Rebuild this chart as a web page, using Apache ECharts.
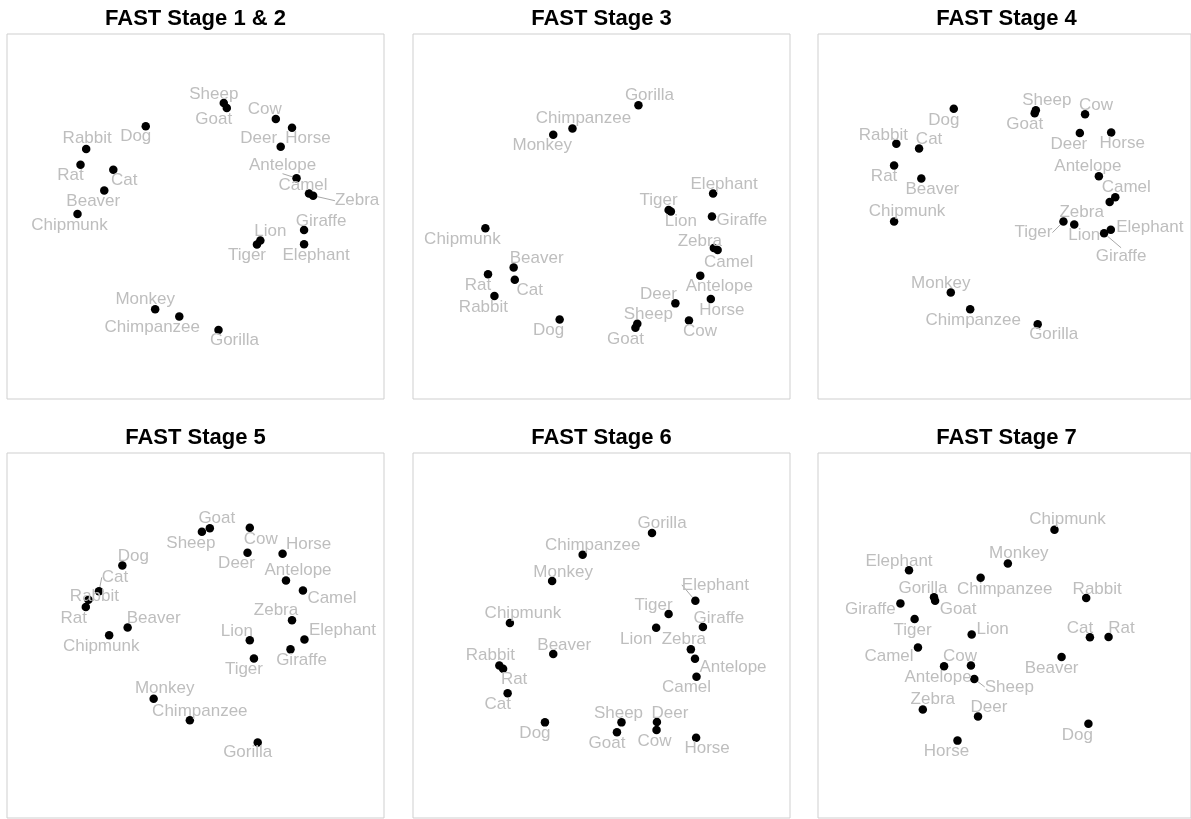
<!DOCTYPE html>
<html>
<head>
<meta charset="utf-8">
<title>FAST stages – animal similarity maps</title>
<script src="https://cdn.jsdelivr.net/npm/echarts@6/dist/echarts.min.js"></script>
<style>
  html, body { margin: 0; padding: 0; background: #fff; }
  #chart { width: 1191px; height: 819px; }
</style>
</head>
<body>
<div id="chart"></div>
<script>
// Animals shown in every panel (same order for all coordinate arrays)
const animals = ['Antelope', 'Beaver', 'Camel', 'Cat', 'Chimpanzee', 'Chipmunk', 'Cow',
  'Deer', 'Dog', 'Elephant', 'Giraffe', 'Goat', 'Gorilla', 'Horse', 'Lion', 'Monkey',
  'Rabbit', 'Rat', 'Sheep', 'Tiger', 'Zebra'];

const stageTitles = ['FAST Stage 1 & 2', 'FAST Stage 3', 'FAST Stage 4',
  'FAST Stage 5', 'FAST Stage 6', 'FAST Stage 7'];

// Two-dimensional map coordinates per stage
const stage12X = [76.8, 25.8, 80.1, 28.2, 45.7, 18.7, 71.3, 72.6, 36.8, 78.8, 78.8, 58.3, 56.1, 75.6, 67.2, 39.3, 21.0, 19.5, 57.5, 66.3, 81.2];
const stage12Y = [60.5, 57.1, 56.3, 62.8, 22.6, 50.7, 76.7, 69.1, 74.7, 42.4, 46.3, 79.7, 18.9, 74.3, 43.4, 24.6, 68.5, 64.2, 81.1, 42.3, 55.7];

const stage3X = [76.2, 26.7, 80.8, 27.0, 42.3, 19.2, 73.2, 69.6, 38.9, 79.6, 79.3, 59.0, 59.8, 79.0, 68.4, 37.2, 21.6, 19.9, 59.5, 67.8, 79.8];
const stage3Y = [33.8, 36.0, 40.8, 32.7, 74.1, 46.8, 21.5, 26.2, 21.8, 56.3, 50.0, 19.5, 80.5, 27.4, 51.4, 72.4, 28.2, 34.2, 20.6, 51.8, 41.4];

const stage4X = [75.3, 27.7, 79.7, 27.1, 40.8, 20.4, 71.6, 70.2, 36.4, 78.5, 76.7, 58.1, 58.9, 78.6, 68.7, 35.6, 21.0, 20.4, 58.4, 65.8, 78.2];
const stage4Y = [61.0, 60.4, 55.3, 68.6, 24.6, 48.6, 78.0, 72.9, 79.5, 46.4, 45.4, 78.3, 20.5, 73.0, 47.8, 29.2, 69.9, 64.0, 79.1, 48.6, 54.0];

const stage5X = [74.0, 32.0, 78.5, 24.4, 48.5, 27.1, 64.4, 63.8, 30.6, 78.9, 75.2, 53.8, 66.5, 73.1, 64.4, 38.9, 21.6, 20.9, 51.7, 65.5, 75.6];
const stage5Y = [65.1, 52.2, 62.3, 62.1, 26.8, 50.1, 79.5, 72.7, 69.2, 48.9, 46.2, 79.4, 20.7, 72.4, 48.7, 32.7, 59.8, 57.8, 78.4, 43.7, 54.2];

const stage6X = [74.8, 37.2, 75.2, 25.1, 45.0, 25.7, 64.6, 64.7, 35.0, 74.9, 76.9, 54.1, 63.4, 75.1, 64.5, 36.9, 22.9, 23.9, 55.3, 67.8, 73.7];
const stage6Y = [43.6, 44.9, 38.7, 34.2, 72.1, 53.4, 24.1, 26.3, 26.2, 59.5, 52.3, 23.5, 78.1, 22.0, 52.1, 64.9, 41.8, 40.9, 26.2, 55.9, 46.2];

const stage7X = [33.8, 65.3, 26.8, 72.9, 43.6, 63.4, 41.0, 42.9, 72.5, 24.4, 22.1, 31.4, 31.1, 37.4, 41.2, 50.9, 71.9, 77.9, 41.9, 25.9, 28.1];
const stage7Y = [41.6, 44.1, 46.7, 49.5, 65.8, 79.0, 41.8, 27.8, 25.8, 67.9, 58.8, 59.5, 60.5, 21.2, 50.3, 69.7, 60.3, 49.6, 38.1, 54.5, 29.7];

// Repelled label placement: pixel shift of each label from its point (same animal order)
const labelShift = [
  [[-14,-13],[-11,11],[-6,-8],[11,11],[-27,11],[-8,11],[-11,-10],[-22,-8],[-10,10],[12,11],[17,-9],[-13,11],[16,10],[16,11],[10,-9],[-10,-10],[1,-11],[-10,11],[-10,-9],[-10,11],[44,5]],
  [[19,11],[23,-9],[11,12],[15,11],[11,-10],[-23,11],[11,11],[-17,-9],[-11,11],[11,-9],[30,4],[-10,11],[11,-10],[11,11],[10,10],[-11,11],[-11,11],[-10,11],[11,-9],[-10,-10],[-14,-7]],
  [[-11,-10],[11,11],[11,-10],[10,-9],[3,11],[13,-10],[11,-9],[-11,11],[-10,11],[39,-2],[17,23],[-10,11],[16,10],[11,11],[10,11],[-10,-9],[-13,-9],[-10,11],[11,-10],[-30,11],[-28,10]],
  [[12,-10],[26,-9],[29,8],[16,-14],[10,-9],[-8,11],[11,11],[-11,11],[11,-9],[38,-9],[11,11],[7,-10],[-10,10],[26,-9],[-13,-9],[11,-10],[6,-3],[-12,11],[-11,11],[-10,11],[-16,-10]],
  [[38,8],[11,-9],[-10,11],[-10,11],[10,-10],[13,-10],[-2,11],[13,-9],[-10,11],[20,-16],[16,-9],[-10,11],[10,-10],[11,11],[-20,11],[11,-9],[-9,-10],[11,11],[-3,-9],[-15,-9],[-7,-10]],
  [[-6,11],[-10,11],[-29,9],[-10,-9],[24,11],[13,-10],[-11,-9],[11,-9],[-11,11],[-10,-9],[-30,6],[23,8],[-11,-9],[-11,11],[21,-5],[11,-10],[11,-9],[13,-9],[35,8],[-2,11],[10,-10]]
];

// Labels that are pushed far enough to get a connecting segment
const guided = [
  ['Zebra', 'Antelope'],
  [],
  ['Tiger', 'Giraffe'],
  ['Cat'],
  ['Elephant'],
  ['Sheep']
];

const stageX = [stage12X, stage3X, stage4X, stage5X, stage6X, stage7X];
const stageY = [stage12Y, stage3Y, stage4Y, stage5Y, stage6Y, stage7Y];

// Panel boxes
const colLeft = [7, 413, 818];
const rowTop = [34, 453];
const panelW = 377, panelH = 365;
const titleTop = [8, 427];

const chart = echarts.init(document.getElementById('chart'), null, { renderer: 'canvas' });

const grids = [], xAxes = [], yAxes = [], titles = [], series = [];
stageTitles.forEach((t, i) => {
  const c = i % 3, r = Math.floor(i / 3);
  grids.push({
    left: colLeft[c], top: rowTop[r], width: panelW, height: panelH,
    show: true, borderColor: '#cfcfcf', borderWidth: 1, backgroundColor: 'transparent'
  });
  xAxes.push({ gridIndex: i, type: 'value', min: 0, max: 100, show: false });
  yAxes.push({ gridIndex: i, type: 'value', min: 0, max: 100, show: false });
  titles.push({
    text: t, left: colLeft[c] + panelW / 2, top: titleTop[r], textAlign: 'center',
    padding: 0,
    textStyle: { fontFamily: 'Liberation Sans, Arial, sans-serif', fontSize: 22, fontWeight: 'bold', color: '#000' }
  });
  const shifts = labelShift[i];
  series.push({
    type: 'scatter',
    xAxisIndex: i, yAxisIndex: i,
    symbol: 'circle', symbolSize: 8.5,
    itemStyle: { color: '#000', opacity: 1 },
    data: animals.map((name, j) => ({
      name: name,
      value: [stageX[i][j], stageY[i][j]],
      labelLine: { show: guided[i].indexOf(name) >= 0 }
    })),
    label: {
      show: true, position: 'inside', formatter: '{b}',
      color: '#bebebe', fontSize: 17, fontFamily: 'Liberation Sans, Arial, sans-serif',
      align: 'center', verticalAlign: 'middle'
    },
    labelLine: { show: false, lineStyle: { color: '#a8a8a8', width: 1 } },
    labelLayout: function (p) {
      const s = shifts[p.dataIndex];
      return { dx: s[0], dy: s[1] };
    },
    emphasis: { disabled: true },
    silent: true,
    z: 2
  });
});

chart.setOption({
  animation: false,
  backgroundColor: '#fff',
  title: titles,
  grid: grids,
  xAxis: xAxes,
  yAxis: yAxes,
  series: series
});
</script>
</body>
</html>
